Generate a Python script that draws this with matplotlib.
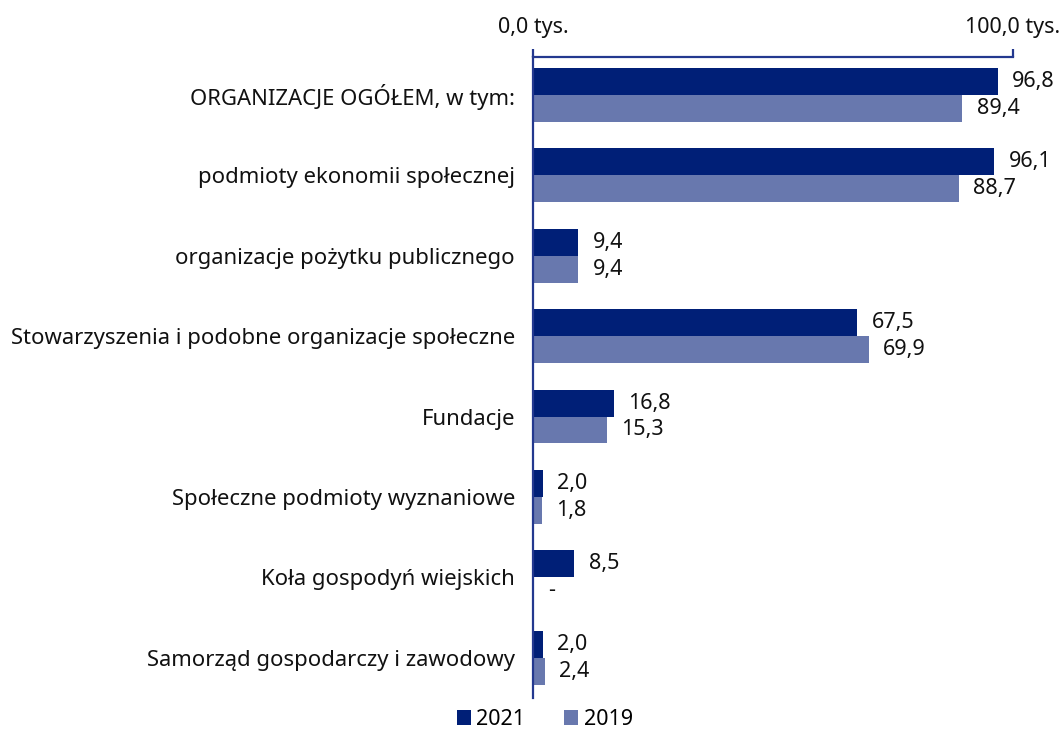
import numpy as np
import matplotlib.pyplot as plt

plt.rcParams['font.family'] = ['Noto Sans', 'DejaVu Sans']

categories = ['ORGANIZACJE OGÓŁEM, w tym:', 'podmioty ekonomii społecznej',
              'organizacje pożytku publicznego', 'Stowarzyszenia i podobne organizacje społeczne',
              'Fundacje', 'Społeczne podmioty wyznaniowe', 'Koła gospodyń wiejskich',
              'Samorząd gospodarczy i zawodowy']
vals_2021 = [96.8, 96.1, 9.4, 67.5, 16.8, 2.0, 8.5, 2.0]
vals_2019 = [89.4, 88.7, 9.4, 69.9, 15.3, 1.8, None, 2.4]
series_names = ['2021', '2019']
colors = ['#001f77', '#6878ae']
axis_color = '#23388f'
fs = 15.5

fig = plt.figure(figsize=(10.6, 7.29), dpi=100)
ax = fig.add_axes([0.503, 0.0425, 0.4527, 0.8793])

y = np.arange(len(categories))
h = 0.335

for i, (vals, col, name) in enumerate(zip([vals_2021, vals_2019], colors, series_names)):
    v = [0 if x is None else x for x in vals]
    pos = y - h / 2 if i == 0 else y + h / 2
    ax.barh(pos, v, height=h, color=col, label=name)
    for p, x, raw in zip(pos, v, vals):
        txt = '-' if raw is None else f'{raw:.1f}'.replace('.', ',')
        ax.annotate(txt, (x, p), xytext=(10.5, 0), textcoords='offset points',
                    va='center', ha='left', fontsize=fs, color='#111111',
                    annotation_clip=False)

ax.set_xlim(0, 100)
ax.set_ylim(7.5, -0.47)
ax.set_yticks(y)
ax.set_yticklabels(categories, fontsize=15.9, color='#111111')
ax.tick_params(axis='y', length=0, pad=13)

ax.xaxis.tick_top()
ax.set_xticks([0, 100])
ax.set_xticklabels(['0,0 tys.', '100,0 tys.'], fontsize=fs, color='#111111')
ax.tick_params(axis='x', direction='out', length=6, width=1.6, color=axis_color, pad=8)

for s in ['right', 'bottom']:
    ax.spines[s].set_visible(False)
for s in ['top', 'left']:
    ax.spines[s].set_color(axis_color)
    ax.spines[s].set_linewidth(1.6)

fig.legend(loc='center', bbox_to_anchor=(0.514, 0.013), ncol=2, frameon=False,
           fontsize=fs, handlelength=0.65, handleheight=0.65, handletextpad=0.25,
           columnspacing=1.8)

fig.savefig('out.png', dpi=100)
